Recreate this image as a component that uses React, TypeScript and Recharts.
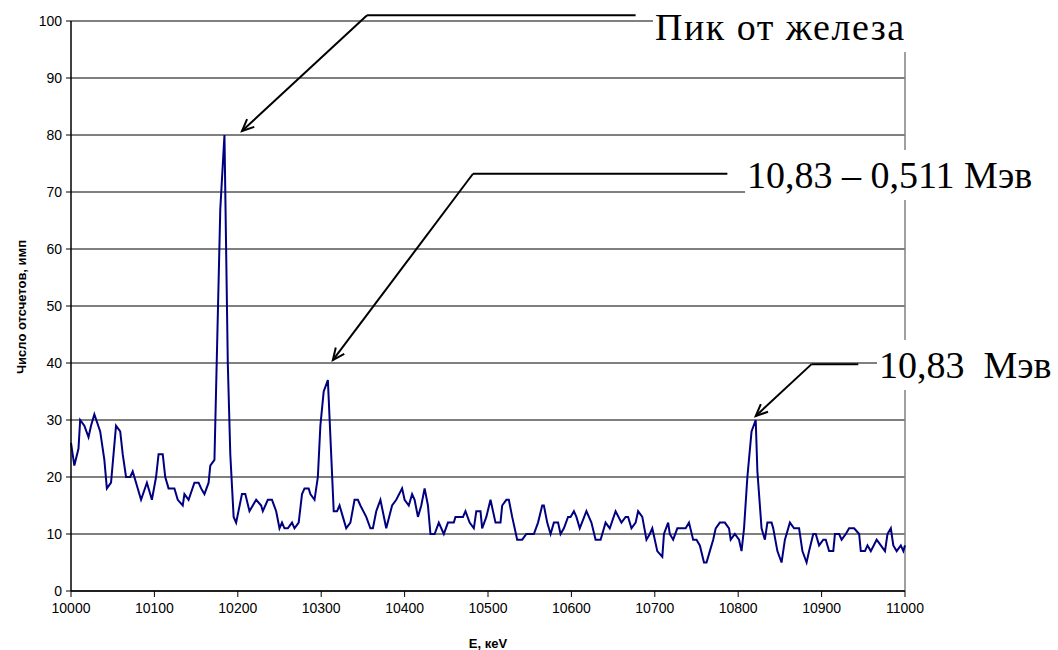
import React from "react";
import {
  CartesianGrid,
  Label,
  Line,
  LineChart,
  ReferenceLine,
  XAxis,
  YAxis,
} from "recharts";

// energy, keV
const energy = [
  10000, 10004, 10009, 10011, 10016, 10021, 10024, 10028, 10035, 10040,
  10043, 10048, 10054, 10059, 10062, 10066, 10071, 10074, 10078, 10084,
  10091, 10097, 10102, 10105, 10110, 10113, 10117, 10124, 10128, 10134,
  10136, 10141, 10148, 10153, 10156, 10160, 10165, 10167, 10172, 10179,
  10184, 10188, 10191, 10195, 10198, 10205, 10209, 10214, 10222, 10228,
  10230, 10236, 10241, 10246, 10250, 10253, 10256, 10260, 10265, 10268,
  10273, 10277, 10280, 10285, 10287, 10292, 10296, 10299, 10303, 10308,
  10315, 10319, 10322, 10326, 10330, 10335, 10340, 10344, 10347, 10354,
  10359, 10362, 10366, 10371, 10378, 10385, 10390, 10397, 10400, 10405,
  10409, 10412, 10416, 10420, 10424, 10428, 10431, 10436, 10441, 10447,
  10452, 10459, 10461, 10470, 10473, 10478, 10483, 10486, 10491, 10493,
  10498, 10503, 10509, 10515, 10517, 10522, 10525, 10529, 10535, 10541,
  10546, 10555, 10560, 10565, 10567, 10571, 10575, 10579, 10584, 10587,
  10591, 10596, 10599, 10603, 10606, 10610, 10618, 10624, 10629, 10635,
  10641, 10646, 10653, 10660, 10665, 10668, 10672, 10677, 10680, 10685,
  10690, 10694, 10697, 10703, 10709, 10711, 10716, 10718, 10722, 10727,
  10733, 10737, 10741, 10746, 10750, 10754, 10759, 10762, 10766, 10770,
  10773, 10778, 10784, 10789, 10791, 10796, 10801, 10804, 10807, 10811,
  10816, 10821, 10823, 10828, 10832, 10835, 10840, 10842, 10847, 10852,
  10856, 10862, 10867, 10873, 10877, 10882, 10885, 10890, 10893, 10897,
  10902, 10905, 10909, 10914, 10916, 10921, 10924, 10929, 10933, 10939,
  10945, 10947, 10952, 10955, 10959, 10966, 10971, 10976, 10979, 10983,
  10986, 10990, 10995, 10998, 11000,
];

// counts, imp
const counts = [
  26, 22, 25, 30, 29, 27, 29, 31, 28, 23,
  18, 19, 29, 28, 24, 20, 20, 21, 19, 16,
  19, 16, 20, 24, 24, 20, 18, 18, 16, 15,
  17, 16, 19, 19, 18, 17, 19, 22, 23, 67,
  80, 40, 24, 13, 12, 17, 17, 14, 16, 15,
  14, 16, 16, 14, 11, 12, 11, 11, 12, 11,
  12, 17, 18, 18, 17, 16, 20, 29, 35, 37,
  14, 14, 15, 13, 11, 12, 16, 16, 15, 13,
  11, 11, 14, 16, 11, 15, 16, 18, 16, 15,
  17, 16, 13, 15, 18, 15, 10, 10, 12, 10,
  12, 12, 13, 13, 14, 12, 11, 14, 14, 11,
  13, 16, 12, 12, 15, 16, 16, 13, 9, 9,
  10, 10, 12, 15, 15, 12, 10, 12, 12, 10,
  11, 13, 13, 14, 13, 11, 14, 12, 9, 9,
  12, 11, 14, 12, 13, 13, 11, 12, 14, 13,
  9, 10, 11, 7, 6, 10, 12, 10, 9, 11,
  11, 11, 12, 9, 9, 8, 5, 5, 7, 9,
  11, 12, 12, 11, 9, 10, 9, 7, 11, 20,
  28, 30, 21, 11, 9, 12, 12, 11, 7, 5,
  9, 12, 11, 11, 7, 5, 7, 10, 10, 8,
  9, 9, 7, 7, 10, 10, 9, 10, 11, 11,
  10, 7, 7, 8, 7, 9, 8, 7, 10, 11,
  8, 7, 8, 7, 8,
];

const xTicks = [
  10000, 10100, 10200, 10300, 10400, 10500, 10600, 10700, 10800, 10900, 11000,
];
const yTicks = [0, 10, 20, 30, 40, 50, 60, 70, 80, 90, 100];

// leader lines: arrow tip at the peak, bend, end of the shelf (data units)
const callouts = [
  { text: "Пик от железа", tip: [10205, 80.7], bend: [10355, 101], end: [10677, 101], box: { left: 653, top: 2, width: 262 }, spacing: 1.5 },
  { text: "10,83 – 0,511 Мэв", tip: [10314, 40.5], bend: [10482, 73.2], end: [10787, 73.2], box: { left: 745, top: 150, width: 300 }, spacing: 0 },
  { text: "10,83  Мэв", tip: [10821, 30.7], bend: [10888, 39.8], end: [10944, 39.8], box: { left: 877, top: 340, width: 181 }, spacing: 0 },
];

const data = energy.map((e, i) => ({ e, n: counts[i] }));

const sans = "'Liberation Sans', Arial, sans-serif";
const serif = "'Liberation Serif', 'Times New Roman', serif";

function Leader(props: any) {
  const { x1, y1, x2, y2, arrow } = props;
  let head = null;
  if (arrow) {
    const dx = x2 - x1;
    const dy = y2 - y1;
    const len = Math.hypot(dx, dy) || 1;
    const ux = dx / len;
    const uy = dy / len;
    const a = (24 * Math.PI) / 180;
    const L = 13;
    const p1 = [x1 + L * (ux * Math.cos(a) - uy * Math.sin(a)), y1 + L * (ux * Math.sin(a) + uy * Math.cos(a))];
    const p2 = [x1 + L * (ux * Math.cos(-a) - uy * Math.sin(-a)), y1 + L * (ux * Math.sin(-a) + uy * Math.cos(-a))];
    head = (
      <polyline
        points={`${p1[0]},${p1[1]} ${x1},${y1} ${p2[0]},${p2[1]}`}
        fill="none"
        stroke="#000"
        strokeWidth={2}
      />
    );
  }
  return (
    <g>
      <line x1={x1} y1={y1} x2={x2} y2={y2} stroke="#000" strokeWidth={2} />
      {head}
    </g>
  );
}

export default function App() {
  return (
    <div style={{ position: "absolute", left: 0, top: 0, width: 1058, height: 650, background: "#fff" }}>
      <LineChart
        width={1058}
        height={650}
        data={data}
        margin={{ top: 21, right: 153, left: 0, bottom: 0 }}
      >
        <CartesianGrid vertical={false} stroke="#000" strokeWidth={1} />
        <XAxis
          dataKey="e"
          type="number"
          domain={[10000, 11000]}
          ticks={xTicks}
          height={59}
          tickSize={6}
          tickMargin={6}
          axisLine={{ stroke: "#000", strokeWidth: 1.5 }}
          tickLine={{ stroke: "#000" }}
          tick={{ fill: "#000", fontSize: 14, fontFamily: sans }}
        >
          <Label
            value="E, кeV"
            position="insideBottom"
            offset={2}
            style={{ fontSize: 13, fontWeight: "bold", fontFamily: sans, fill: "#000" }}
          />
        </XAxis>
        <YAxis
          type="number"
          domain={[0, 100]}
          ticks={yTicks}
          width={71}
          tickSize={5}
          tickMargin={4}
          axisLine={{ stroke: "#000", strokeWidth: 1.5 }}
          tickLine={{ stroke: "#000" }}
          tick={{ fill: "#000", fontSize: 14, fontFamily: sans }}
        >
          <Label
            content={() => (
              <text
                transform="translate(21,307) rotate(-90)"
                textAnchor="middle"
                dominantBaseline="central"
                style={{ fontSize: 13, fontWeight: "bold", fontFamily: sans, fill: "#000" }}
              >
                Число отсчетов, имп
              </text>
            )}
          />
        </YAxis>
        <ReferenceLine y={100} stroke="#808080" strokeWidth={1.5} />
        <ReferenceLine x={11000} stroke="#808080" strokeWidth={1.5} />
        <Line
          type="linear"
          dataKey="n"
          stroke="#000080"
          strokeWidth={2}
          dot={false}
          isAnimationActive={false}
        />
        {callouts.map((c, i) => (
          <ReferenceLine
            key={`a${i}`}
            ifOverflow="visible"
            segment={[{ x: c.tip[0], y: c.tip[1] }, { x: c.bend[0], y: c.bend[1] }]}
            shape={(p: any) => <Leader {...p} arrow />}
          />
        ))}
        {callouts.map((c, i) => (
          <ReferenceLine
            key={`b${i}`}
            ifOverflow="visible"
            segment={[{ x: c.bend[0], y: c.bend[1] }, { x: c.end[0], y: c.end[1] }]}
            shape={(p: any) => <Leader {...p} />}
          />
        ))}
      </LineChart>
      {callouts.map((c, i) => (
        <div
          key={i}
          style={{
            position: "absolute",
            left: c.box.left,
            top: c.box.top,
            width: c.box.width,
            height: 50,
            lineHeight: "50px",
            background: "#fff",
            fontFamily: serif,
            fontSize: 38,
            letterSpacing: c.spacing,
            color: "#000",
            whiteSpace: "pre",
            paddingLeft: 2,
            boxSizing: "border-box",
          }}
        >
          {c.text}
        </div>
      ))}
    </div>
  );
}
